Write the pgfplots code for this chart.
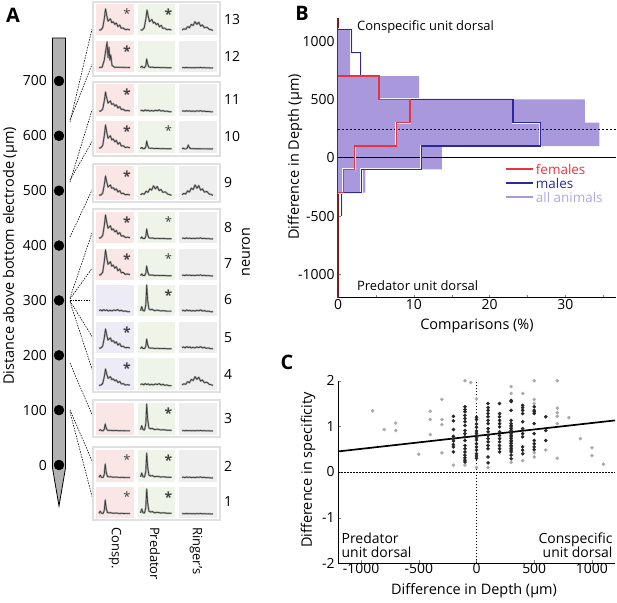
\documentclass[border=0pt]{standalone}
\usepackage{fontspec}
\setmainfont{Open Sans}
\usepackage{pgfplots}
\usepackage{pgfplotstable}
\pgfplotsset{compat=1.18}

\definecolor{fem}{HTML}{E8343C}
\definecolor{mal}{HTML}{2A2A9E}
\definecolor{allan}{HTML}{A999DC}
\definecolor{allantxt}{HTML}{B2A6E2}
\definecolor{spine}{HTML}{7A1E1E}
\definecolor{cpink}{HTML}{FBE6E6}
\definecolor{cgreen}{HTML}{EEF5E8}
\definecolor{cgray}{HTML}{EEEEEE}
\definecolor{cpurp}{HTML}{ECEBF6}
\definecolor{gbox}{HTML}{E0E0E0}

\newcommand\fs[1]{\fontsize{#1}{#1}\selectfont}

% response traces, normalised: x in 0..1 across the cell, y in 0..1 of the amplitude
\pgfplotstableread{
x y
0 0.04
0.06 0.05
0.12 0.15
0.17 0.55
0.21 1.0
0.25 0.7
0.29 0.45
0.33 0.5
0.37 0.55
0.41 0.38
0.46 0.42
0.51 0.3
0.56 0.36
0.61 0.2
0.67 0.27
0.72 0.12
0.78 0.14
0.85 0.06
0.92 0.08
1 0.05
}\tA
\pgfplotstableread{
x y
0 0.05
0.04 0.2
0.08 0.05
0.13 0.04
0.17 0.25
0.2 1.0
0.23 0.45
0.27 0.12
0.32 0.08
0.38 0.1
0.45 0.05
0.55 0.07
0.65 0.04
0.75 0.05
0.85 0.03
1 0.03
}\tB
\pgfplotstableread{
x y
0 0.2
0.05 0.3
0.1 0.15
0.15 0.35
0.2 0.2
0.25 0.3
0.3 0.15
0.36 0.25
0.42 0.15
0.48 0.3
0.54 0.2
0.6 0.35
0.66 0.15
0.72 0.25
0.78 0.1
0.85 0.15
0.92 0.05
1 0.05
}\tC
\pgfplotstableread{
x y
0 0.1
0.06 0.2
0.12 0.15
0.18 0.4
0.24 0.3
0.3 0.6
0.36 0.5
0.42 0.85
0.48 0.6
0.54 0.8
0.6 0.45
0.66 0.55
0.72 0.3
0.8 0.35
0.88 0.15
0.94 0.12
1 0.05
}\tD
\pgfplotstableread{
x y
0 0.02
0.1 0.03
0.17 0.3
0.22 0.7
0.26 1.0
0.29 0.4
0.32 0.8
0.35 0.3
0.38 0.5
0.42 0.1
0.5 0.03
1 0.02
}\tE

% panel B histograms (percent, depth)
\pgfplotstableread{
x y
0 700
5.4 700
5.4 500
9.5 500
9.5 300
7.7 300
7.7 100
2.2 100
2.2 -100
0.7 -100
0.7 -300
0 -300
}\females
\pgfplotstableread{
x y
0 1100
1.8 1100
1.8 900
3.0 900
3.0 700
}\malestop
\pgfplotstableread{
x y
9.5 500
23.1 500
23.1 300
26.7 300
26.7 100
11.0 100
11.0 -100
3.1 -100
3.1 -300
0.5 -300
0.5 -500
}\males

% panel C
\pgfplotstableread{
x y
-900 1.34
-800 0.93
-700 1.07
-700 0.91
-500 0.39
-400 1.15
-400 1.33
-400 0.82
-300 1.59
-300 1.15
-300 1.04
-300 0.42
-200 0.15
-100 2.0
-50 1.96
-100 0.15
0 1.6
0 0.1
100 0.1
300 1.87
300 1.72
300 0.21
400 1.72
400 0.25
500 2.0
500 1.59
500 1.5
500 0.42
500 0.33
600 0.48
700 2.0
700 1.4
700 1.3
700 1.22
700 1.06
700 0.3
800 1.19
900 0.73
1000 0.53
1000 0.36
1100 0.17
}\greypts
\pgfplotstableread{
x y
-200 1.22
-200 1.12
-200 0.93
-200 0.78
-200 0.73
-200 0.68
-200 0.60
-200 0.55
-200 0.44
-100 1.43
-100 1.37
-100 1.32
-100 1.24
-100 1.17
-100 1.10
-100 1.02
-100 0.91
-100 0.84
-100 0.77
-100 0.69
-100 0.58
-100 0.51
-100 0.44
-100 0.37
-100 0.31
-100 0.26
-100 0.22
0 1.20
0 1.15
0 1.05
0 0.98
0 0.90
0 0.85
0 0.80
0 0.75
0 0.70
0 0.62
0 0.55
0 0.48
0 0.40
0 0.35
0 0.30
100 1.50
100 1.41
100 1.35
100 1.28
100 1.21
100 1.13
100 1.06
100 0.95
100 0.88
100 0.80
100 0.73
100 0.66
100 0.58
100 0.51
100 0.33
100 0.20
200 1.50
200 1.28
200 1.21
200 1.13
200 1.06
200 0.99
200 0.88
200 0.80
200 0.73
200 0.66
200 0.58
200 0.51
200 0.44
300 1.57
300 1.54
300 1.35
300 1.13
300 1.06
300 1.02
300 0.99
300 0.95
300 0.91
300 0.88
300 0.84
300 0.80
300 0.77
300 0.73
300 0.69
300 0.66
300 0.62
300 0.58
300 0.55
300 0.51
300 0.48
300 0.44
300 0.37
300 0.29
400 1.46
400 1.41
400 1.35
400 1.28
400 1.10
400 0.95
400 0.84
400 0.77
400 0.55
400 0.48
400 0.40
500 1.43
500 1.35
500 1.32
500 1.28
500 1.06
500 0.84
500 0.69
500 0.62
500 0.55
500 0.49
600 1.21
600 0.91
600 0.69
}\blackpts

% one trace in a cell: table, cell left, cell bottom, amplitude
\newcommand\tr[4]{%
  \addplot[draw=black!38, line width=1.8bp, line join=round]
    table[x expr=#2+3+31*\thisrow{x}, y expr=#3-4-#4*\thisrow{y}] {#1};
  \addplot[draw=black!80, line width=0.6bp, line join=round]
    table[x expr=#2+3+31*\thisrow{x}, y expr=#3-4-#4*\thisrow{y}] {#1};}
% asterisk: cell left, cell top, font (pixel frame of panel A)
\newcommand\sig[3]{\node[font=#3, inner sep=0pt, text=black!75] at (#1+31,#2+10) {*};}
\newcommand\sigbig{\bfseries\fs{14}}
\newcommand\sigsml{\fs{13}}

\begin{document}
\begin{tikzpicture}[x=1bp,y=1bp]
\coordinate (pA) at (50,603);
\coordinate (pB) at (338,305.3);
\coordinate (pC) at (338,39.7);

% ================= A : schematic parts, in a frame where (x,y) is the pixel position
\begin{scope}[shift={(0,603)}, y=-1bp]
\filldraw[fill=black!30, draw=black, line width=0.8bp]
  (52.5,38) -- (65.5,38) -- (65.5,468) -- (59,506) -- (52.5,468) -- cycle;
\begin{scope}[line width=0.6bp, dash pattern=on 1.5bp off 1.2bp]
\draw (70,122) -- (93,25);
\draw (70,120) -- (93,62);
\draw (70,182) -- (93,107);
\draw (70,180) -- (93,140);
\draw (70,237) -- (93,188);
\draw (70,298) -- (93,230);
\draw (70,299) -- (93,267);
\draw (70,300) -- (93,300);
\draw (70,301) -- (93,338);
\draw (70,302) -- (93,372);
\draw (70,363) -- (93,417);
\draw (70,410) -- (93,463);
\draw (70,412) -- (93,500);
\end{scope}
\foreach \ya/\yb in {2/76, 82/156, 164/202, 209/392, 400/437, 447/520}
  \draw[gbox, line width=1.2bp, fill=white] (93,\ya) rectangle (220,\yb);
\foreach \ya/\yb/\cc in {4/35/cpink, 41/72/cpink, 84/116/cpink, 121/153/cpink,
    166/200/cpink, 212/243/cpink, 249/280/cpink, 285/316/cpurp, 322/353/cpurp,
    358/390/cpurp, 403/435/cpink, 450/482/cpink, 487/518/cpink}{
  \fill[\cc] (96,\ya) rectangle (133.5,\yb);
  \fill[cgreen] (137.5,\ya) rectangle (175,\yb);
  \fill[cgray] (179,\ya) rectangle (216.5,\yb);
}
\sig{96}{4}{\sigsml}    \sig{137.5}{4}{\sigbig}
\sig{96}{41}{\sigbig}
\sig{96}{84}{\sigbig}
\sig{96}{121}{\sigbig}  \sig{137.5}{121}{\sigsml}
\sig{96}{166}{\sigbig}
\sig{96}{212}{\sigbig}  \sig{137.5}{212}{\sigsml}
\sig{96}{249}{\sigbig}  \sig{137.5}{249}{\sigsml}
\sig{137.5}{285}{\sigbig}
\sig{96}{322}{\sigbig}
\sig{96}{358}{\sigbig}
\sig{137.5}{403}{\sigbig}
\sig{96}{450}{\sigsml}  \sig{137.5}{450}{\sigbig}
\sig{96}{487}{\sigsml}  \sig{137.5}{487}{\sigbig}
\foreach \nn/\yy in {13/20, 12/56, 11/100, 10/137, 9/183, 8/228, 7/264,
    6/300, 5/338, 4/374, 3/419, 2/466, 1/502}
  \node[anchor=west, font=\fs{14}, inner sep=0pt] at (224,\yy) {\nn};
\node[rotate=90, font=\fs{14.5}] at (246,252) {neuron};
\node[rotate=-90, anchor=west, font=\fs{13}, inner sep=0pt] at (115,527) {Consp.};
\node[rotate=-90, anchor=west, font=\fs{13}, inner sep=0pt] at (155,527) {Predator};
\node[rotate=-90, anchor=west, font=\fs{13}, inner sep=0pt] at (196,527) {Ringer's};
\node[rotate=90, font=\fs{14.5}] at (10,256) {Distance above bottom electrode (µm)};
\node[font=\bfseries\fs{20}] at (13,15) {A};
\end{scope}

% A: electrode sites and traces through the axis (pixel units, y downwards)
\begin{axis}[at={(pA)}, anchor=north west, scale only axis,
  width=200bp, height=603bp, xmin=50, xmax=250, ymin=0, ymax=603,
  y dir=reverse, clip=false, axis line style={draw=none},
  xtick=\empty, major tick length=0pt,
  ytick={81,135.8,190.7,245.6,300.4,355.3,410.1,465},
  yticklabels={700,600,500,400,300,200,100,0},
  yticklabel style={font=\fs{14}, inner sep=0pt, xshift=-3bp}]
\addplot[only marks, mark=*, mark size=5, black] coordinates {
  (59,81) (59,135.8) (59,190.7) (59,245.6) (59,300.4) (59,355.3) (59,410.1) (59,465)};
% traces: neuron 13 .. 1
\tr{\tA}{96}{35}{22}   \tr{\tA}{137.5}{35}{21}  \tr{\tD}{179}{35}{11}
\tr{\tE}{96}{72}{26}   \tr{\tB}{137.5}{72}{9}   \tr{\tC}{179}{72}{1.5}
\tr{\tA}{96}{116}{20}  \tr{\tC}{137.5}{116}{6}  \tr{\tC}{179}{116}{4}
\tr{\tA}{96}{153}{24}  \tr{\tB}{137.5}{153}{8}  \tr{\tB}{179}{153}{4}
\tr{\tA}{96}{200}{20}  \tr{\tD}{137.5}{200}{12} \tr{\tD}{179}{200}{13}
\tr{\tA}{96}{243}{24}  \tr{\tB}{137.5}{243}{10} \tr{\tC}{179}{243}{3}
\tr{\tA}{96}{280}{26}  \tr{\tB}{137.5}{280}{10} \tr{\tC}{179}{280}{3}
\tr{\tC}{96}{316}{7}   \tr{\tB}{137.5}{316}{27} \tr{\tC}{179}{316}{6}
\tr{\tA}{96}{353}{20}  \tr{\tB}{137.5}{353}{10} \tr{\tC}{179}{353}{7}
\tr{\tA}{96}{390}{17}  \tr{\tC}{137.5}{390}{7}  \tr{\tD}{179}{390}{11}
\tr{\tB}{96}{435}{7}   \tr{\tB}{137.5}{435}{27} \tr{\tC}{179}{435}{1.5}
\tr{\tB}{96}{482}{14}  \tr{\tB}{137.5}{482}{25} \tr{\tC}{179}{482}{3}
\tr{\tB}{96}{518}{14}  \tr{\tB}{137.5}{518}{25} \tr{\tC}{179}{518}{1.5}
\end{axis}

% ================= B
\begin{axis}[at={(pB)}, anchor=south west, scale only axis,
  width=278bp, height=280bp, xmin=0, xmax=36.7, ymin=-1200, ymax=1200,
  axis x line*=bottom, axis y line*=left, clip=false,
  y axis line style={draw=spine, line width=1.2bp},
  x axis line style={line width=0.7bp},
  tick align=inside, major tick length=3bp, minor tick length=3bp,
  xtick={0,10,20,30}, minor xtick={5,15,25,35},
  ytick={-1000,-500,0,500,1000},
  scaled ticks=false, /pgf/number format/1000 sep={},
  /pgf/number format/assume math mode=true,
  tick label style={font=\fs{14}},
  xticklabel style={yshift=2bp}]
\addplot[xbar, bar width=200, fill=allan, draw=none] coordinates {
  (1.6,1000) (1.6,800) (10.7,600) (32.6,400) (34.5,200) (13.7,0) (3.6,-200)};
\addplot[black, line width=0.6bp] coordinates {(0,0) (36.7,0)};
\addplot[black, line width=0.6bp, dash pattern=on 2bp off 2bp] coordinates {(0,240) (36.7,240)};
\addplot[white!85!allan, line width=2.1bp] table {\malestop};
\addplot[white!85!allan, line width=2.1bp] table {\males};
\addplot[mal, line width=1.3bp] table {\malestop};
\addplot[mal, line width=1.3bp] table {\males};
\addplot[white!85!allan, line width=2.1bp] table {\females};
\addplot[fem, line width=1.3bp] table {\females};
% legend
\draw[fem, line width=2bp] (axis cs:22.2,-99) -- (axis cs:25.8,-99);
\draw[mal, line width=2bp] (axis cs:22.2,-219) -- (axis cs:25.8,-219);
\draw[allan, line width=2bp] (axis cs:22.2,-339) -- (axis cs:25.8,-339);
\node[anchor=west, inner sep=0pt, font=\fs{13.5}, text=fem] at (axis cs:26.1,-99) {females};
\node[anchor=west, inner sep=0pt, font=\fs{13.5}, text=mal] at (axis cs:26.1,-219) {males};
\node[anchor=west, inner sep=0pt, font=\fs{13.5}, text=allantxt] at (axis cs:26.1,-339) {all animals};
\node[anchor=west, inner sep=0pt, font=\fs{13}] at (axis cs:2.5,1120) {Conspecific unit dorsal};
\node[anchor=west, inner sep=0pt, font=\fs{13}] at (axis cs:2.5,-1100) {Predator unit dorsal};
\end{axis}
\node[font=\fs{14.5}] at (477,277) {Comparisons (\%)};
\node[rotate=90, font=\fs{14.5}] at (295,446) {Difference in Depth (µm)};
\node[font=\bfseries\fs{20}] at (302,590) {B};

% ================= C
\begin{axis}[at={(pC)}, anchor=south west, scale only axis,
  width=277bp, height=182.6bp, xmin=-1200, xmax=1200, ymin=-2, ymax=2,
  axis x line*=bottom, axis y line*=left, clip=false,
  axis line style={line width=0.7bp},
  tick align=inside, major tick length=3bp,
  xtick={-1000,-500,0,500,1000}, ytick={-2,-1,0,1,2},
  scaled ticks=false, /pgf/number format/1000 sep={},
  /pgf/number format/assume math mode=true,
  tick label style={font=\fs{14}},
  xticklabel style={yshift=3bp}]
\addplot[black, line width=0.7bp, dash pattern=on 1.5bp off 1.5bp] coordinates {(-1200,0) (1200,0)};
\addplot[black, line width=0.7bp, dash pattern=on 1.5bp off 1.5bp] coordinates {(0,-2) (0,2)};
\addplot[only marks, mark=*, mark size=1.6, black!33] table {\greypts};
\addplot[only marks, mark=*, mark size=1.6, black!85] table {\blackpts};
\addplot[black, line width=1.7bp] coordinates {(-1200,0.45) (1200,1.13)};
\node[anchor=south west, align=left, inner sep=0pt, font=\fs{14}] at (axis cs:-1170,-1.87) {Predator\\unit dorsal};
\node[anchor=south east, align=right, inner sep=0pt, font=\fs{14}] at (axis cs:1180,-1.87) {Conspecific\\unit dorsal};
\end{axis}
\node[font=\fs{14.5}] at (474,12) {Difference in Depth (µm)};
\node[rotate=90, font=\fs{14.5}] at (308,133) {Difference in specificity};
\node[font=\bfseries\fs{20}] at (287,241) {C};

\pgfresetboundingbox
\path[use as bounding box] (0,0) rectangle (617,603);
\end{tikzpicture}
\end{document}
